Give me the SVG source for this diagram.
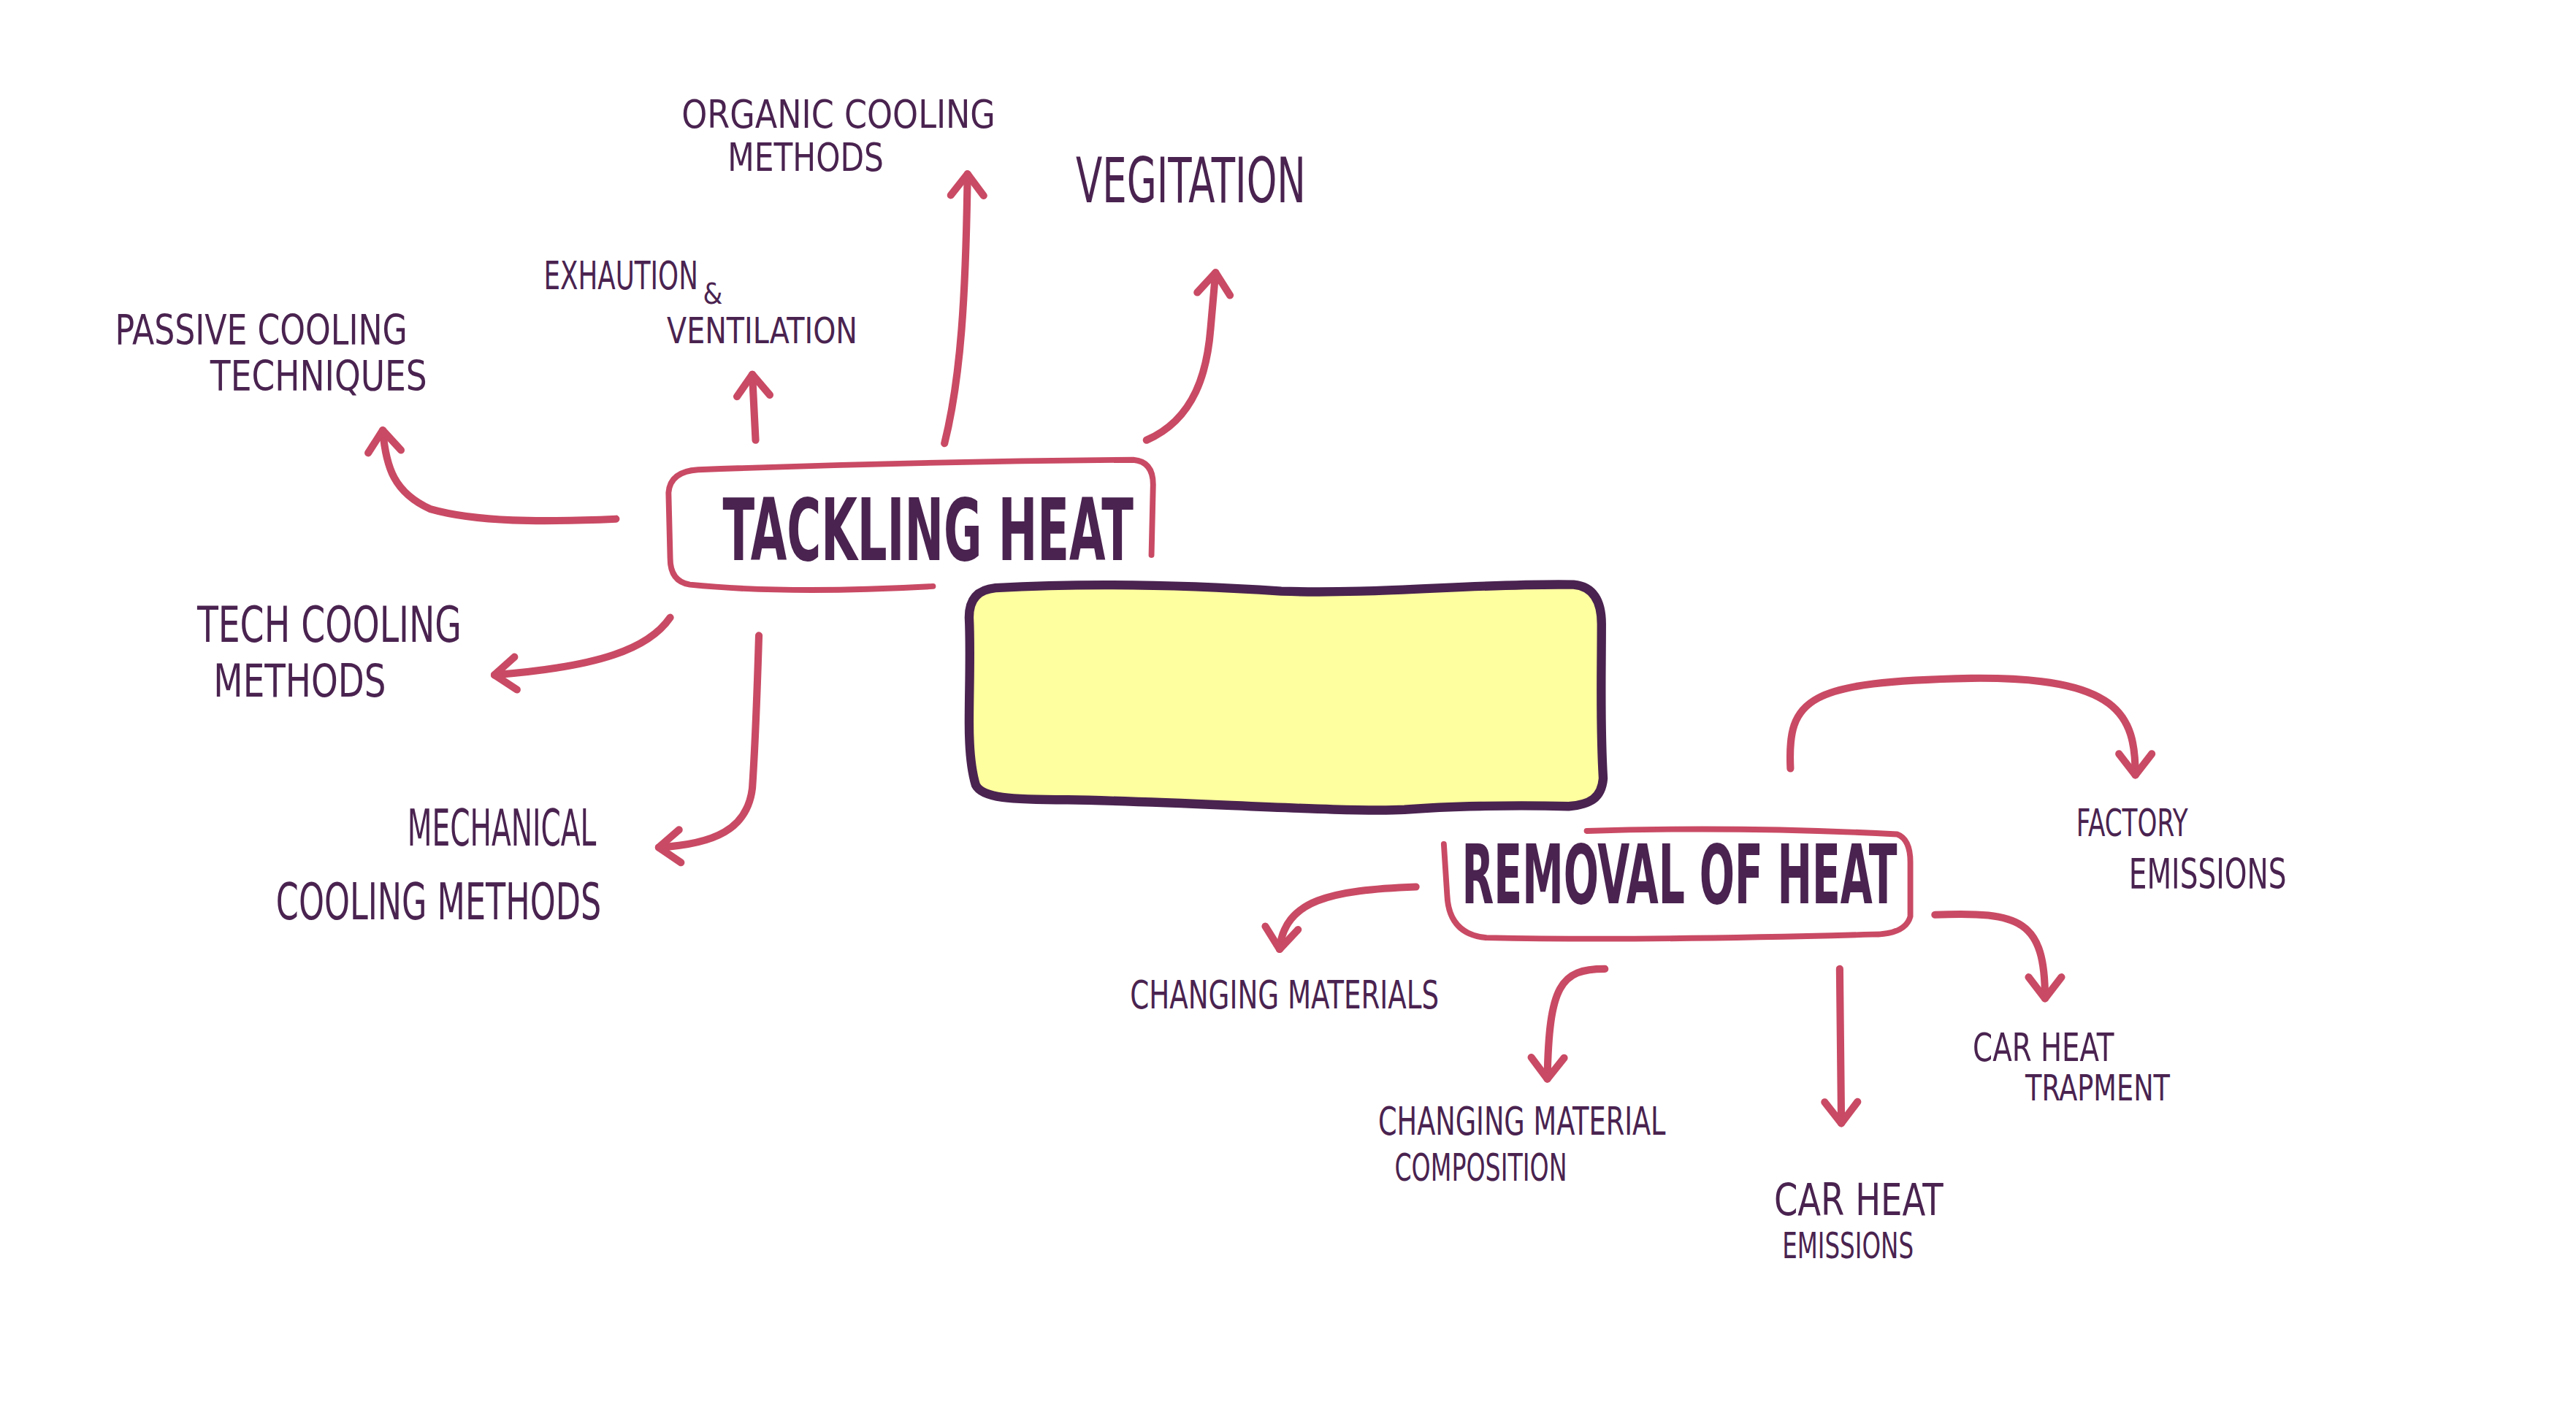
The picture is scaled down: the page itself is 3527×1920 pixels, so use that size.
<svg xmlns="http://www.w3.org/2000/svg" width="3527" height="1920" viewBox="0 0 3527 1920">
<style>
.lbl{font-family:"DejaVu Sans Condensed","DejaVu Sans","Liberation Sans",sans-serif;fill:#4a2350;}
.title{font-family:"DejaVu Sans Condensed","DejaVu Sans","Liberation Sans",sans-serif;font-weight:bold;fill:#4a2350;}
.box{fill:none;stroke:#c94a64;stroke-width:3.5;stroke-linecap:round;stroke-linejoin:round;}
.conn{fill:none;stroke:#c94a64;stroke-width:4.5;stroke-linecap:round;stroke-linejoin:round;}
</style>
<defs>
<marker id="ah" markerUnits="userSpaceOnUse" markerWidth="30" markerHeight="30" refX="0" refY="0" orient="auto" overflow="visible">
<path d="M-13,-10 L0,0 L-13,10" fill="none" stroke="#c94a64" stroke-width="4.5" stroke-linecap="round" stroke-linejoin="round"/>
</marker>
</defs>
<rect width="3527" height="1920" fill="#ffffff"/>
<g transform="scale(2.249)">
<g id="connectors">
<path class="conn" marker-end="url(#ah)" d="M375,316 C330,318 290,318 262,310 C240,300 235,285 233,262"/>
<path class="conn" marker-end="url(#ah)" d="M460,268 L458,228"/>
<path class="conn" marker-end="url(#ah)" d="M575,270 C585,230 588,180 589,106"/>
<path class="conn" marker-end="url(#ah)" d="M698,268 C728,255 735,225 737,200 L740,166"/>
<path class="conn" marker-end="url(#ah)" d="M408,376 C395,395 365,406 301,411"/>
<path class="conn" marker-end="url(#ah)" d="M462,387 C461,420 460,450 458,480 C455,505 435,514 401,516"/>
<path class="conn" marker-end="url(#ah)" d="M1090,468 C1088,425 1100,415 1200,413 C1290,412 1300,435 1300,472"/>
<path class="conn" marker-end="url(#ah)" d="M862,540 C810,542 782,548 779,578"/>
<path class="conn" marker-end="url(#ah)" d="M977,590 C950,590 943,600 942,657"/>
<path class="conn" marker-end="url(#ah)" d="M1120,590 L1121,684"/>
<path class="conn" marker-end="url(#ah)" d="M1178,557 C1230,555 1245,560 1245,608"/>
</g>
<g id="node-yellow">
<path d="M606,358 C660,355 720,356 780,360 C840,362 900,355 958,356 C970,357 975,366 975,380 C975,410 974,440 976,474 C975,486 968,490 955,491 C920,490 880,491 855,493 C820,495 720,488 650,487 C615,487 598,486 594,478 C591,468 590,455 590,440 C590,420 591,395 590,376 C590,364 596,359 606,358 Z" fill="#feff9f" stroke="#4a2350" stroke-width="5.5" stroke-linejoin="round"/>
</g>
<g id="node-tackling-heat">
<path class="box" d="M568,357 Q480,362 420,356 Q408,354 408,340 L407,300 Q408,287 425,286 Q560,281 690,280 Q702,281 702,295 L701,338"/>
<text class="title" x="440" y="341" font-size="52" textLength="250" lengthAdjust="spacingAndGlyphs">TACKLING HEAT</text>
</g>
<g id="node-removal-of-heat">
<path class="box" d="M966,506 Q1060,503 1155,508 Q1163,511 1163,525 L1163,558 Q1160,569 1140,569 Q1000,573 905,571 Q882,569 881,545 L879,514"/>
<text class="title" x="890" y="550" font-size="50" textLength="265" lengthAdjust="spacingAndGlyphs">REMOVAL OF HEAT</text>
</g>
<g id="node-organic">
<text class="lbl" x="415" y="78" font-size="24" textLength="191" lengthAdjust="spacingAndGlyphs">ORGANIC  COOLING</text>
<text class="lbl" x="443" y="104" font-size="24" textLength="95" lengthAdjust="spacingAndGlyphs">METHODS</text>
</g>
<g id="node-vegitation">
<text class="lbl" x="655" y="123" font-size="38" textLength="140" lengthAdjust="spacingAndGlyphs">VEGITATION</text>
</g>
<g id="node-exhaution">
<text class="lbl" x="331" y="176" font-size="24" textLength="94" lengthAdjust="spacingAndGlyphs">EXHAUTION</text>
<text class="lbl" x="428" y="185" font-size="17">&amp;</text>
<text class="lbl" x="406" y="209" font-size="22" textLength="116" lengthAdjust="spacingAndGlyphs">VENTILATION</text>
</g>
<g id="node-passive">
<text class="lbl" x="70" y="210" font-size="25" textLength="178" lengthAdjust="spacingAndGlyphs">PASSIVE COOLING</text>
<text class="lbl" x="128" y="238" font-size="25" textLength="132" lengthAdjust="spacingAndGlyphs">TECHNIQUES</text>
</g>
<g id="node-tech">
<text class="lbl" x="120" y="391" font-size="30" textLength="161" lengthAdjust="spacingAndGlyphs">TECH COOLING</text>
<text class="lbl" x="130" y="424" font-size="28" textLength="105" lengthAdjust="spacingAndGlyphs">METHODS</text>
</g>
<g id="node-mechanical">
<text class="lbl" x="248" y="515" font-size="31" textLength="115" lengthAdjust="spacingAndGlyphs">MECHANICAL</text>
<text class="lbl" x="168" y="560" font-size="31" textLength="198" lengthAdjust="spacingAndGlyphs">COOLING  METHODS</text>
</g>
<g id="node-factory">
<text class="lbl" x="1264" y="509" font-size="23" textLength="68" lengthAdjust="spacingAndGlyphs">FACTORY</text>
<text class="lbl" x="1296" y="541" font-size="25" textLength="96" lengthAdjust="spacingAndGlyphs">EMISSIONS</text>
</g>
<g id="node-changing-materials">
<text class="lbl" x="688" y="614" font-size="24" textLength="188" lengthAdjust="spacingAndGlyphs">CHANGING  MATERIALS</text>
</g>
<g id="node-composition">
<text class="lbl" x="839" y="691" font-size="24" textLength="175" lengthAdjust="spacingAndGlyphs">CHANGING  MATERIAL</text>
<text class="lbl" x="849" y="719" font-size="23" textLength="105" lengthAdjust="spacingAndGlyphs">COMPOSITION</text>
</g>
<g id="node-car-emissions">
<text class="lbl" x="1080" y="740" font-size="27" textLength="103" lengthAdjust="spacingAndGlyphs">CAR  HEAT</text>
<text class="lbl" x="1085" y="766" font-size="22" textLength="80" lengthAdjust="spacingAndGlyphs">EMISSIONS</text>
</g>
<g id="node-car-trapment">
<text class="lbl" x="1201" y="646" font-size="24" textLength="86" lengthAdjust="spacingAndGlyphs">CAR HEAT</text>
<text class="lbl" x="1233" y="670" font-size="22" textLength="88" lengthAdjust="spacingAndGlyphs">TRAPMENT</text>
</g>
</g>
</svg>
